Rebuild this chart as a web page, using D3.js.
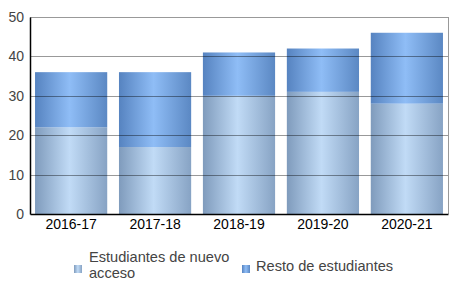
<!DOCTYPE html>
<html><head><meta charset="utf-8">
<script src="https://cdn.jsdelivr.net/npm/d3@7"></script>
<style>body{margin:0;background:#fff}svg{display:block;font-family:"Liberation Sans",Arial,sans-serif}</style>
</head><body>
<script>
const categories = ["2016-17","2017-18","2018-19","2019-20","2020-21"];
const nuevoAcceso = [22,17,30,31,28];
const restoEstudiantes = [14,19,11,11,18];
const yTicks = [0,10,20,30,40,50];
const seriesNames = ["Estudiantes de nuevo acceso","Resto de estudiantes"];

const W=456,H=305;
const m={l:30,r:8,t:17,b:91};
const svg=d3.select("body").append("svg").attr("width",W).attr("height",H);
const x=d3.scaleBand().domain(categories).range([m.l,W-m.r]).paddingInner(0.14).paddingOuter(0.06);
const y=d3.scaleLinear().domain([0,50]).range([H-m.b,m.t]);

const defs=svg.append("defs");
function grad(id,edgeL,mid,edgeR){
  const g=defs.append("linearGradient").attr("id",id).attr("x1","0%").attr("x2","100%").attr("y1","0").attr("y2","0");
  g.append("stop").attr("offset","0%").attr("stop-color",edgeL);
  g.append("stop").attr("offset","48%").attr("stop-color",mid);
  g.append("stop").attr("offset","100%").attr("stop-color",edgeR);
}
grad("g0","#7f9bbc","#c1dbf6","#87a3c4");
grad("g1","#5683c0","#8fbdf6","#5b88c3");

const data=categories.map((c,i)=>({c,a:nuevoAcceso[i],b:restoEstudiantes[i]}));
svg.append("g").selectAll("rect").data(data).join("rect")
  .attr("x",d=>x(d.c)).attr("width",x.bandwidth())
  .attr("y",d=>y(d.a)).attr("height",d=>y(0)-y(d.a)).attr("fill","url(#g0)");
svg.append("g").selectAll("rect").data(data).join("rect")
  .attr("x",d=>x(d.c)).attr("width",x.bandwidth())
  .attr("y",d=>y(d.a+d.b)).attr("height",d=>y(d.a)-y(d.a+d.b)).attr("fill","url(#g1)");

// gridlines over bars
svg.append("g").selectAll("line").data(yTicks.filter(t=>t>0)).join("line")
  .attr("x1",m.l).attr("x2",W-m.r).attr("y1",d=>Math.round(y(d))+0.5).attr("y2",d=>Math.round(y(d))+0.5)
  .attr("stroke","rgba(0,0,0,0.4)").attr("stroke-width",1);
// right border
svg.append("line").attr("x1",W-m.r+0.5).attr("x2",W-m.r+0.5).attr("y1",Math.round(y(50))).attr("y2",y(0))
  .attr("stroke","#999");

// y axis
const ya=svg.append("g").attr("transform",`translate(${m.l},0)`)
  .call(d3.axisLeft(y).tickValues(yTicks).tickSize(0).tickPadding(6));
ya.select(".domain").attr("stroke","#000").attr("stroke-width",1.5);
ya.selectAll("text").attr("font-size",14).attr("fill","#444").attr("font-family","Liberation Sans, Arial, sans-serif");

// x axis
const xa=svg.append("g").attr("transform",`translate(0,${y(0)})`)
  .call(d3.axisBottom(x).tickSize(0).tickPadding(5));
xa.select(".domain").attr("stroke","#000").attr("stroke-width",1.5);
xa.selectAll("text").attr("font-size",14).attr("fill","#000").attr("font-family","Liberation Sans, Arial, sans-serif");

// legend
const lg=svg.append("g").attr("font-size",14.6).attr("fill","#444");
lg.append("rect").attr("x",74).attr("y",265).attr("width",8).attr("height",8).attr("fill","url(#g0)");
const t1=lg.append("text").attr("x",89).attr("y",262).attr("fill","#444");
t1.append("tspan").attr("x",89).text("Estudiantes de nuevo");
t1.append("tspan").attr("x",89).attr("dy",16).text("acceso");
lg.append("rect").attr("x",242).attr("y",265).attr("width",8).attr("height",8).attr("fill","url(#g1)");
lg.append("text").attr("x",256).attr("y",271).attr("fill","#444").text(seriesNames[1]);
</script>
</body></html>
